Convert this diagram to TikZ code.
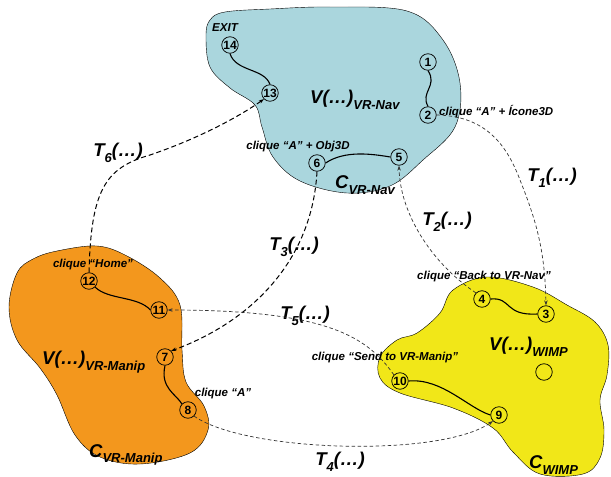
\documentclass[tikz,border=0pt]{standalone}
\usepackage{fontspec}
\setmainfont{Liberation Sans}
\usetikzlibrary{arrows.meta,positioning}
\definecolor{navblue}{RGB}{170,214,221}
\definecolor{manorange}{RGB}{243,151,29}
\definecolor{wimpyellow}{RGB}{241,231,24}
\newcommand{\lowtxt}[1]{\raisebox{-0.3em}{\fontsize{13}{13}\selectfont #1}}

\begin{document}
\begin{tikzpicture}[
    x=1pt, y=-1pt,
    st/.style={circle, draw, line width=0.75pt, inner sep=0pt, minimum size=16.5pt, font=\bfseries\fontsize{12}{12}\selectfont},
    lbl/.style={inner sep=0pt, font=\bfseries\itshape\fontsize{11.5}{13}\selectfont},
    big/.style={inner sep=0pt, font=\bfseries\itshape\fontsize{18.5}{20}\selectfont},
    tr/.style={dash pattern=on 3.5pt off 2.5pt, line width=0.7pt, draw=black!80, -{Stealth[length=5pt,width=3.5pt]}},
    trb/.style={tr, line width=1pt, dash pattern=on 5pt off 3pt, draw=black},
    ln/.style={line width=1.1pt}
]
    \useasboundingbox (0,0) rectangle (611,477);

    % zones
    \draw [fill=navblue, thin] plot [smooth cycle, tension=0.6] coordinates {
        (210,20) (225,12) (270,9) (330,7) (407,11) (443,40) (460,83) (455,127)
        (423,160) (390,186) (347,193) (300,181) (273,157) (262,127) (255,105)
        (230,88) (210,67) (206,36)};
    \draw [fill=manorange, thin] plot [smooth cycle, tension=0.6] coordinates {
        (17,273) (33,259) (57,251) (97,246) (127,256) (160,278) (180,305)
        (182,350) (186,382) (204,406) (208,430) (190,453) (140,464) (100,457)
        (75,435) (57,395) (40,368) (17,340) (9,307)};
    \draw [fill=wimpyellow, thin] plot [smooth cycle, tension=0.6] coordinates {
        (453,290) (487,277) (533,287) (567,305) (595,322) (608,345) (607,375)
        (600,400) (604,430) (600,458) (583,474) (540,474) (513,452) (493,428)
        (453,408) (400,393) (380,378) (380,357) (397,340) (417,333) (440,313)};

    % states
    \node [st] (n14) at (230,45) {14};
    \node [st] (n13) at (270,93) {13};
    \node [st] (n1) at (428,62) {1};
    \node [st] (n2) at (428,115) {2};
    \node [st] (n6) at (317,163) {6};
    \node [st] (n5) at (399,157) {5};
    \node [st] (n12) at (89,281) {12};
    \node [st] (n11) at (159,310) {11};
    \node [st] (n7) at (165,357) {7};
    \node [st] (n8) at (188,410) {8};
    \node [st] (n4) at (482,299) {4};
    \node [st] (n3) at (546,314) {3};
    \node [st] (n10) at (400,381) {10};
    \node [st] (n9) at (499,415) {9};
    \node [st] (n0) at (544,372) {};

    % labels
    \node [lbl] (exit) at (225,28) {EXIT};
    \node [big, anchor=west] (vnav) at (310,100) {V(…)\lowtxt{VR-Nav}};
    \node [lbl, anchor=west] (cl2) at (439,112) {clique “A” + Ícone3D};
    \node [lbl] (cl6) at (298,147) {clique “A” + Obj3D};
    \node [big, anchor=west] (cnav) at (335,185) {C\lowtxt{VR-Nav}};
    \node [lbl] (cl12) at (93,265) {clique “Home”};
    \node [big, anchor=west] (vmanip) at (42,362) {V(…)\lowtxt{VR-Manip}};
    \node [lbl] (cl8) at (223,394) {clique “A”};
    \node [big, anchor=west] (cmanip) at (89,455) {C\lowtxt{VR-Manip}};
    \node [lbl] (cl4) at (484,277) {clique “Back to VR-Nav”};
    \node [big, anchor=west] (vwimp) at (489,347) {V(…)\lowtxt{WIMP}};
    \node [lbl] (cl10) at (385,358) {clique “Send to VR-Manip”};
    \node [big, anchor=west] (cwimp) at (529,465) {C\lowtxt{WIMP}};

    \node [big] (t6) at (118,153) {T\lowtxt{6}(…)};
    \node [big] (t1) at (552,178) {T\lowtxt{1}(…)};
    \node [big] (t2) at (447,222) {T\lowtxt{2}(…)};
    \node [big] (t3) at (294,247) {T\lowtxt{3}(…)};
    \node [big] (t5) at (305,316) {T\lowtxt{5}(…)};
    \node [big] (t4) at (340,462) {T\lowtxt{4}(…)};

    % paths inside zones
    \draw [ln] (n14.south) .. controls (236,72) and (264,68) .. (n13.north);
    \draw [ln] (n1.south) .. controls (438,86) and (420,92) .. (n2.north);
    \draw [ln] (n6.east) .. controls (345,150) and (372,154) .. (n5.west);
    \draw [ln] (n12.south east) .. controls (108,300) and (138,296) .. (n11.west);
    \draw [ln] (n7.south) .. controls (160,388) and (176,394) .. (n8.north west);
    \draw [ln] (n4.east) .. controls (512,297) and (504,316) .. (n3.west);
    \draw [ln] (n10.east) .. controls (442,378) and (468,408) .. (n9.west);

    % transitions
    \draw [tr] (n2.east) .. controls (482,116) and (505,140) .. (520,180)
        .. controls (536,220) and (545,250) .. (n3.north);
    \draw [tr] (n4.north west) .. controls (430,262) and (400,212) .. (n5.south);
    \draw [trb] (n6.south) .. controls (312,262) and (250,322) .. (n7.north east);
    \draw [tr] (n10.north west) .. controls (368,338) and (330,310) .. (n11.east);
    \draw [tr] (n8.south east) .. controls (245,452) and (440,458) .. (n9.south west);
    \draw [trb] (n12.north) .. controls (91,190) and (105,168) .. (150,155)
        .. controls (200,138) and (240,116) .. (n13.south west);
\end{tikzpicture}
\end{document}
